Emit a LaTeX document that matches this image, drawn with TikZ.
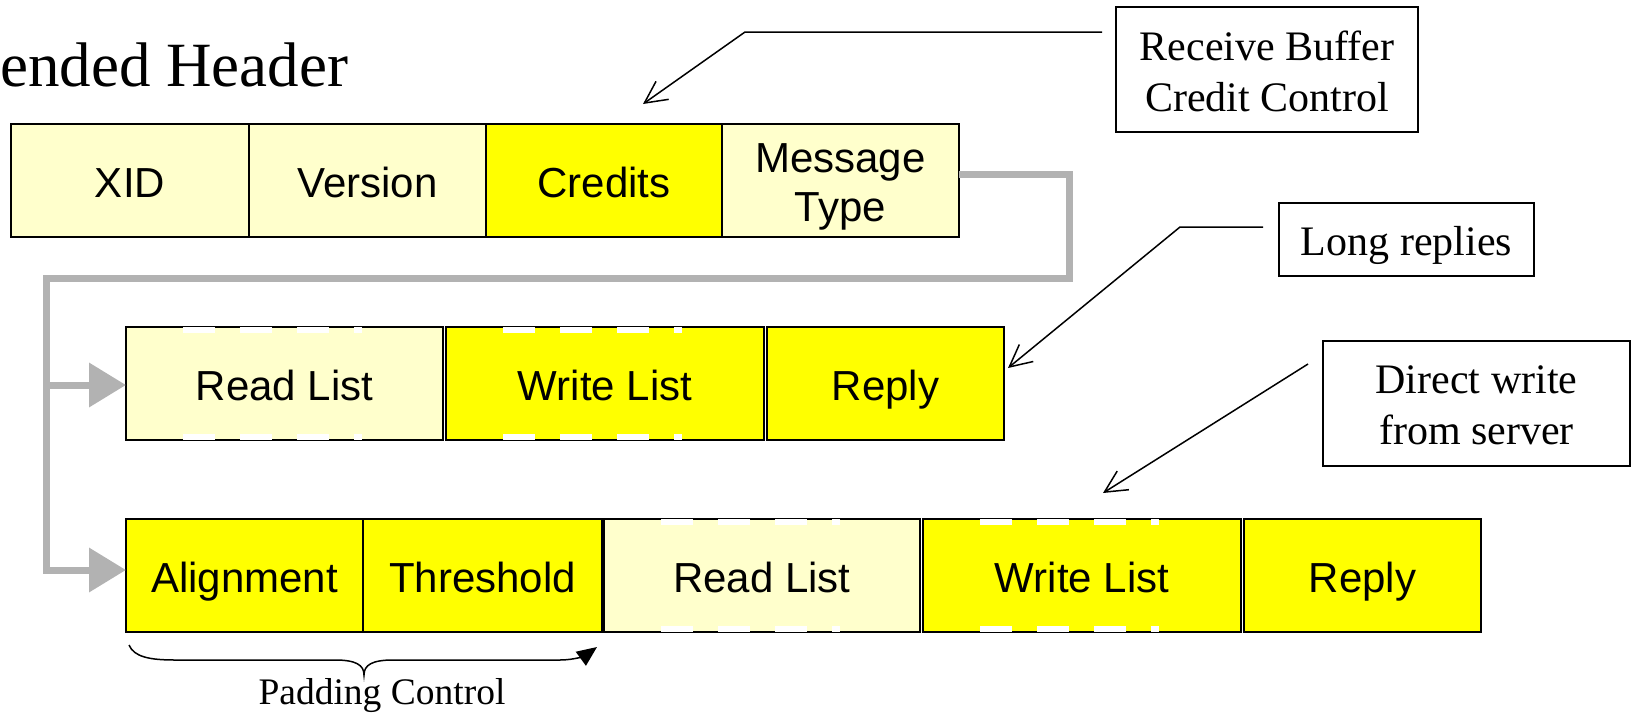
\documentclass[tikz,border=0pt]{standalone}
\usepackage{fontspec}
\setmainfont{Liberation Serif}
\newfontfamily\arialf{Liberation Sans}
\usetikzlibrary{arrows.meta}
\definecolor{lightyel}{HTML}{FFFFCC}
\definecolor{yel}{HTML}{FFFF00}
\definecolor{glinec}{HTML}{B2B2B2}
\begin{document}
\begin{tikzpicture}[x=1pt,y=-1pt,
  fbox/.style={draw=black, line width=2pt, inner sep=0pt, outer sep=0pt, minimum height=113pt,
    font=\arialf\fontsize{42}{49}\selectfont, align=center, text height=36pt, text depth=2pt},
  lt/.style={fbox, fill=lightyel},
  yl/.style={fbox, fill=yel},
  note/.style={draw=black, line width=1.8pt, inner sep=0pt, outer sep=0pt,
    font=\fontsize{42}{51}\selectfont, align=center},
  callout/.style={line width=1.5pt, -{Straight Barb[length=22pt,width=22pt]}},
  grayline/.style={draw=glinec, line width=7pt},
  grayarrow/.style={grayline, -{Triangle[length=37pt,width=43pt]}},
  wdash/.style={draw=white, line width=5.5pt, dash pattern=on 32pt off 25pt},
]
\useasboundingbox (0,0) rectangle (1632,713);

% title
\node[anchor=base west, inner sep=0pt, font=\fontsize{63}{75}\selectfont] (title) at (0,86) {ended Header};

% row 1
\node[lt, minimum width=238pt] (xid) at (130,180.5) {XID};
\node[lt, minimum width=237pt] (ver) at (367.5,180.5) {Version};
\node[yl, minimum width=236pt] (cred) at (604,180.5) {Credits};
\node[lt, minimum width=237pt, text height=83pt] (msg) at (840.5,180.5) {Message\\Type};

% row 2
\node[lt, minimum width=317pt] (read2) at (284.5,383.5) {Read List};
\node[yl, minimum width=318pt] (write2) at (605,383.5) {Write List};
\node[yl, minimum width=237pt] (reply2) at (885.5,383.5) {Reply};

% row 3
\node[yl, minimum width=237pt] (align) at (244.5,575.5) {Alignment};
\node[yl, minimum width=239pt] (thresh) at (482.5,575.5) {Threshold};
\node[lt, minimum width=316pt] (read3) at (762,575.5) {Read List};
\node[yl, minimum width=318pt] (write3) at (1082,575.5) {Write List};
\node[yl, minimum width=237pt] (reply3) at (1362.5,575.5) {Reply};

% white dashes on variable-length boxes
\foreach \b in {read2,write2,read3,write3}{
  \draw[wdash] ([xshift=57pt,yshift=-3pt]\b.north west) -- ++(179,0);
  \draw[wdash] ([xshift=57pt,yshift=3pt]\b.south west) -- ++(179,0);
}

% gray connector
\coordinate (vx) at (46,0);
\draw[grayarrow] ([yshift=6.5pt]msg.east) -| (1069,278) -| ([yshift=5.5pt]align.west -| vx) -- ([yshift=5.5pt]align.west);
\draw[grayarrow] ([yshift=-1.5pt]read2.west -| vx) -- ([yshift=-1.5pt]read2.west);

% notes
\node[note, minimum width=302pt, minimum height=125pt, text height=86pt, text depth=2pt] (recv) at (1267,69.5) {Receive Buffer\\Credit Control};
\node[note, minimum width=255pt, minimum height=73pt, text height=33pt, text depth=2pt] (longr) at (1406.5,239.5) {Long replies};
\node[note, minimum width=307pt, minimum height=125pt, text height=84pt, text depth=2pt] (direct) at (1476.5,403.5) {Direct write\\from server};

% callouts
\draw[callout] ([shift={(-14pt,37.5pt)}]recv.west) -- (745,32) -- ([shift={(39pt,20pt)}]cred.north);
\draw[callout] ([shift={(-16pt,12.5pt)}]longr.west) -- (1180,227) -- ([shift={(4pt,15.5pt)}]reply2.east);
\draw[callout] ([shift={(-15pt,39.5pt)}]direct.west) -- ([shift={(21pt,26pt)}]write3.north);

% brace
\draw[line width=1.5pt, -{Triangle[length=20pt,width=17pt]}]
  (129,645) .. controls (134,657) and (150,660) .. (175,660) -- (335,660)
  .. controls (356,660) and (364,665) .. (364,675)
  .. controls (364,665) and (372,660) .. (393,660) -- (560,660)
  .. controls (575,660) and (586,655) .. (597,647);
\node[anchor=base, inner sep=0pt, font=\fontsize{37.5}{44}\selectfont] (pad) at (382,704) {Padding Control};
\end{tikzpicture}
\end{document}
